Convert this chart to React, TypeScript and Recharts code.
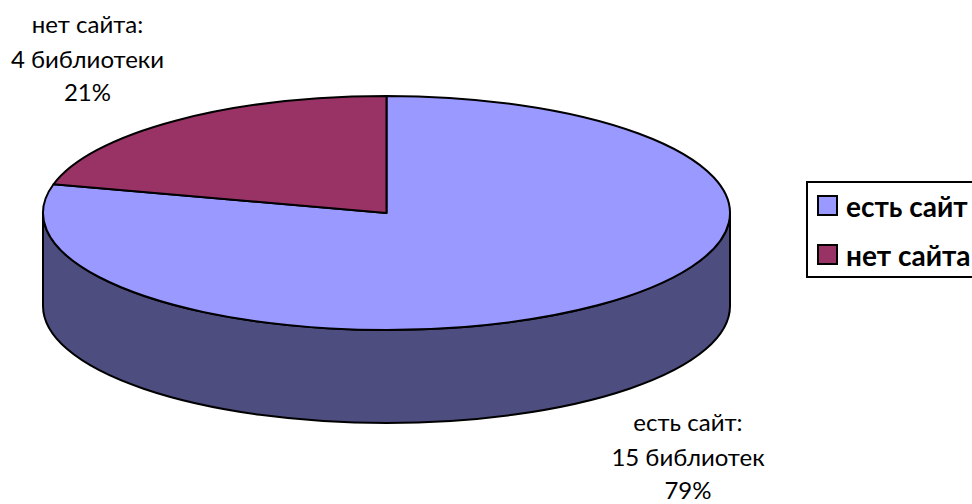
import React from "react";
import { PieChart, Pie, Legend } from "recharts";

const names = ["есть сайт", "нет сайта"];
const values = [15, 4];
const counts = ["15 библиотек", "4 библиотеки"];
const percents = ["79%", "21%"];
const colors = ["#9999ff", "#993366"];

const wallColor = "#4d4d80";
const fontFamily = "Lato, 'Open Sans', sans-serif";

const tilt = 117 / 343.5;
const depth = 93;

// label centre and first line baseline, measured on the page
const labelPos = [
  { x: 688, y: 431 },
  { x: 87.5, y: 33 },
];

const data = names.map((name, i) => ({ name, value: values[i], fill: colors[i] }));

const point = (cx, cy, r, deg) => {
  const a = (deg * Math.PI) / 180;
  return [cx + r * Math.cos(a), cy - r * tilt * Math.sin(a)];
};

// flattened slice with its side wall, the pie itself stays in recharts' angles
const Slice3D = (props) => {
  const { cx, cy, outerRadius: r, startAngle, endAngle, fill } = props;
  const ry = r * tilt;
  const [x0, y0] = point(cx, cy, r, startAngle);
  const [x1, y1] = point(cx, cy, r, endAngle);
  const large = Math.abs(startAngle - endAngle) > 180 ? 1 : 0;
  const top = `M${cx},${cy} L${x0},${y0} A${r},${ry} 0 ${large} 1 ${x1},${y1} Z`;

  const hi = Math.min(startAngle, 0);
  const lo = Math.max(endAngle, -180);
  let wall = null;
  if (hi > lo) {
    const [wx0, wy0] = point(cx, cy, r, hi);
    const [wx1, wy1] = point(cx, cy, r, lo);
    wall = `M${wx0},${wy0} A${r},${ry} 0 0 1 ${wx1},${wy1} L${wx1},${wy1 + depth} A${r},${ry} 0 0 0 ${wx0},${wy0 + depth} Z`;
  }
  return (
    <g>
      {wall && <path d={wall} fill={wallColor} stroke="#000" strokeWidth={2} />}
      <path d={top} fill={fill} stroke="#000" strokeWidth={2} strokeLinejoin="round" />
    </g>
  );
};

const renderLabel = ({ index }) => {
  const { x, y } = labelPos[index];
  return (
    <text x={x} y={y} textAnchor="middle" fontFamily={fontFamily} fontSize={24} fill="#000">
      <tspan x={x}>{names[index]}:</tspan>
      <tspan x={x} dy={34.5}>{counts[index]}</tspan>
      <tspan x={x} dy={33.5}>{percents[index]}</tspan>
    </text>
  );
};

const renderLegend = () => (
  <div
    style={{
      boxSizing: "border-box",
      width: 200,
      height: 97,
      border: "2.5px solid #000",
      background: "#fff",
      fontFamily,
      fontSize: 28,
      fontWeight: 700,
      color: "#000",
    }}
  >
    {names.map((name, i) => (
      <div key={name} style={{ position: "absolute", left: 11, top: 14 + i * 49, display: "flex", alignItems: "center", height: 21 }}>
        <span
          style={{
            boxSizing: "border-box",
            width: 21,
            height: 21,
            background: colors[i],
            border: "2.5px solid #000",
            marginRight: 8,
          }}
        />
        <span style={{ whiteSpace: "nowrap" }}>{name}</span>
      </div>
    ))}
  </div>
);

export default function App() {
  return (
    <div style={{ position: "absolute", left: 0, top: 0, width: 972, height: 504, overflow: "hidden", background: "#fff" }}>
      <PieChart width={972} height={504} margin={{ top: 0, right: 0, bottom: 0, left: 0 }}>
        <Pie
          data={data}
          dataKey="value"
          nameKey="name"
          cx={386.5}
          cy={213}
          innerRadius={0}
          outerRadius={343.5}
          startAngle={90}
          endAngle={-270}
          stroke="#000"
          shape={Slice3D}
          label={renderLabel}
          labelLine={false}
          isAnimationActive={false}
        />
        <Legend content={renderLegend} wrapperStyle={{ position: "absolute", left: 806, top: 181, width: 200, height: 97 }} />
      </PieChart>
    </div>
  );
}
